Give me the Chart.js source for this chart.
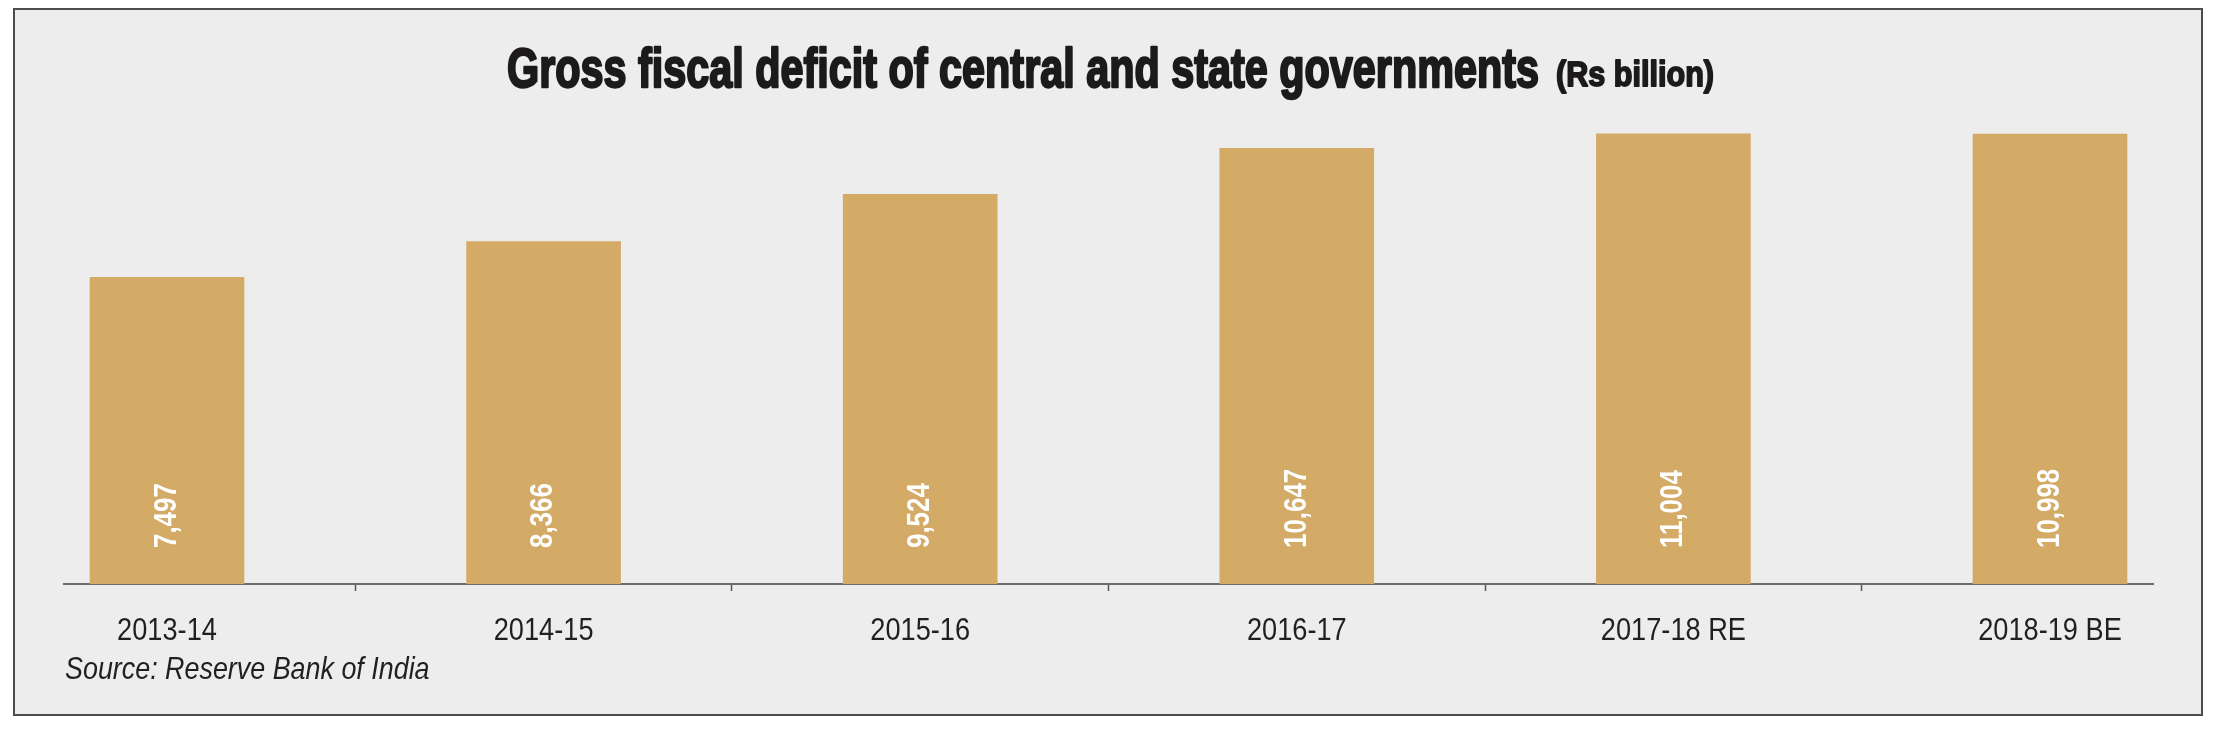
<!DOCTYPE html>
<html lang="en">
<head>
  <meta charset="UTF-8" />
  <title>Gross fiscal deficit of central and state governments</title>
  <script src="https://cdn.jsdelivr.net/npm/chart.js"></script>
  <style>
    html, body { margin: 0; padding: 0; background: #fff; }
    #wrap { width: 2214px; height: 729px; position: relative; }
  </style>
</head>
<body>

<div id="wrap"><canvas id="deficitChart"></canvas></div>

<script>
  const years = ["2013-14", "2014-15", "2015-16", "2016-17", "2017-18 RE", "2018-19 BE"];
  const deficit = [7497, 8366, 9524, 10647, 11004, 10998];
  const titleText = "Gross fiscal deficit of central and state governments";
  const unitText = "(Rs billion)";
  const sourceText = "Source: Reserve Bank of India";

  const sans = "'Liberation Sans', Arial, sans-serif";

  // grey panel with a dark frame, white page round it
  const framePlugin = {
    id: "frame",
    beforeDraw(chart) {
      const ctx = chart.ctx;
      ctx.save();
      ctx.fillStyle = "#ffffff";
      ctx.fillRect(0, 0, chart.width, chart.height);
      ctx.fillStyle = "#ededed";
      ctx.fillRect(14, 9, 2188, 706);
      ctx.strokeStyle = "#4d4d4d";
      ctx.lineWidth = 2;
      ctx.strokeRect(14, 9, 2188, 706);
      ctx.restore();
    }
  };

  // no narrow face installed, so squeeze the normal one sideways
  function squeeze(ctx, text, x, y, font, sx, heavy) {
    ctx.save();
    ctx.font = font;
    ctx.translate(x, y);
    ctx.scale(sx, 1);
    ctx.fillText(text, 0, 0);
    if (heavy) {
      ctx.lineWidth = heavy;
      ctx.lineJoin = "round";
      ctx.strokeText(text, 0, 0);
    }
    ctx.restore();
  }

  function squeezeTo(ctx, text, x, y, font, width, heavy) {
    ctx.font = font;
    squeeze(ctx, text, x, y, font, width / ctx.measureText(text).width, heavy);
  }

  const textPlugin = {
    id: "texts",
    afterDraw(chart) {
      const ctx = chart.ctx;
      const xs = chart.scales.x;
      ctx.save();
      ctx.textBaseline = "alphabetic";

      // heading is a compressed black face in the print, fake the weight with a stroke
      ctx.fillStyle = "#1c1a1b";
      ctx.strokeStyle = "#1c1a1b";
      ctx.textAlign = "left";
      squeezeTo(ctx, titleText, 507, 87, "bold 55px " + sans, 1032, 2.4);
      squeezeTo(ctx, unitText, 1556, 86, "bold 35px " + sans, 158, 1.8);

      ctx.fillStyle = "#231f20";
      ctx.textAlign = "center";
      years.forEach((y, i) => {
        squeeze(ctx, y, xs.getPixelForValue(i), 640, "32px " + sans, 0.85);
      });

      ctx.textAlign = "left";
      squeeze(ctx, sourceText, 65, 679, "italic 32px " + sans, 0.84);
      ctx.restore();
    }
  };

  // white values standing up inside each bar
  const valueLabels = {
    id: "valueLabels",
    afterDatasetsDraw(chart) {
      const ctx = chart.ctx;
      const meta = chart.getDatasetMeta(0);
      const base = chart.scales.y.getPixelForValue(0);
      ctx.save();
      ctx.fillStyle = "#ffffff";
      ctx.font = "bold 32px " + sans;
      ctx.textAlign = "left";
      ctx.textBaseline = "middle";
      meta.data.forEach((bar, i) => {
        ctx.save();
        ctx.translate(bar.x, base - 36);
        ctx.rotate(-Math.PI / 2);
        ctx.scale(0.81, 1);
        ctx.fillText(deficit[i].toLocaleString("en-US"), 0, 0);
        ctx.restore();
      });
      ctx.restore();
    }
  };

  new Chart(document.getElementById("deficitChart"), {
    type: "bar",
    data: {
      datasets: [{
        data: deficit.map((v, i) => ({ x: i, y: v })),
        backgroundColor: "#d3aa66",
        barThickness: 154
      }]
    },
    options: {
      responsive: true,
      maintainAspectRatio: false,
      animation: false,
      layout: { padding: { left: 64, right: 61, top: 93, bottom: 0 } },
      plugins: {
        legend: { display: false },
        title: { display: false },
        tooltip: { enabled: false }
      },
      scales: {
        x: {
          type: "linear",
          min: -0.2735,
          max: 5.2735,
          offset: false,
          afterBuildTicks: s => { s.ticks = years.map((y, i) => ({ value: i })); },
          afterFit: s => { s.height = 145; },
          grid: {
            offset: true,
            drawOnChartArea: false,
            drawTicks: true,
            tickLength: 7,
            tickColor: "#555555",
            tickWidth: 1.5
          },
          border: { display: true, color: "#6b6b6b", width: 2 },
          ticks: { display: false }
        },
        y: { display: false, min: 0, max: 12000 }
      }
    },
    plugins: [framePlugin, valueLabels, textPlugin]
  });
</script>

</body>
</html>
